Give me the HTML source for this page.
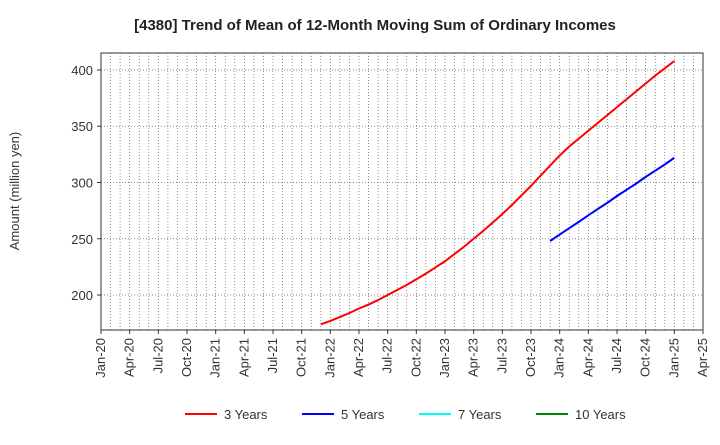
<!DOCTYPE html>
<html><head><meta charset="utf-8"><style>
body{margin:0;background:#fff;font-family:"Liberation Sans",sans-serif}
</style></head><body>
<svg id="c" width="720" height="440" xmlns="http://www.w3.org/2000/svg"></svg>
<script>
const xLabels=["Jan-20","Apr-20","Jul-20","Oct-20","Jan-21","Apr-21","Jul-21","Oct-21","Jan-22","Apr-22","Jul-22","Oct-22","Jan-23","Apr-23","Jul-23","Oct-23","Jan-24","Apr-24","Jul-24","Oct-24","Jan-25","Apr-25"];
const yTicks=[200,250,300,350,400];
const red3Start=23; // month index (Dec-21)
const red3=[174,177,180.5,184,188,191.5,195.5,200,204.5,209,214,219,224.5,230,236.5,243,250,257,264.5,272,280,288.5,297,306,315,324,332,339,346,353,360,367,374,381,388,395,401.5,408];
const blue5Start=47; // Dec-23
const blue5=[248,253.7,259.4,265,270.8,276.5,282,288,293.5,299,305,310.5,316,322];
const L=101,R=703,T=53,B=330,yMin=168.9,yMax=415.1,mMax=63;
const X=m=>L+(R-L)*m/mMax, Y=v=>B-(B-T)*(v-yMin)/(yMax-yMin);
const s=document.getElementById('c');const NS="http://www.w3.org/2000/svg";
function el(t,a,p){const e=document.createElementNS(NS,t);for(const k in a)e.setAttribute(k,a[k]);(p||s).appendChild(e);return e;}
const title=el('text',{x:375,y:30,'text-anchor':'middle','font-size':15,'font-weight':'bold',fill:'#222'});

title.textContent="[4380]  Trend of Mean of 12-Month Moving Sum of Ordinary Incomes";
for(let m=0;m<=mMax;m++){const g=el('line',{x1:X(m),x2:X(m),y1:T,y2:B,stroke:'#666','stroke-width':0.7,'stroke-dasharray':'1,2'});}
yTicks.forEach(v=>{const g=el('line',{x1:L,x2:R,y1:Y(v),y2:Y(v),stroke:'#666','stroke-width':0.7,'stroke-dasharray':'1,2'});
el('line',{x1:L-4,x2:L,y1:Y(v),y2:Y(v),stroke:'#333'});
const t=el('text',{x:L-8,y:Y(v)+5,'text-anchor':'end','font-size':13,fill:'#333'});t.textContent=v;});
const fr=el('rect',{x:L,y:T,width:R-L,height:B-T,fill:'none',stroke:'#333','stroke-width':1});
xLabels.forEach((lb,i)=>{const x=X(i*3);el('line',{x1:x,x2:x,y1:B,y2:B+4,stroke:'#333'});
const t=el('text',{transform:`translate(${x+4},${B+8}) rotate(-90)`,'text-anchor':'end','font-size':13,fill:'#333'});t.textContent=lb;});
const yt=el('text',{transform:'translate(19,191) rotate(-90)','text-anchor':'middle','font-size':13,fill:'#333'});yt.textContent="Amount (million yen)";
function line(arr,start,col,name){const p=el('polyline',{points:arr.map((v,i)=>X(start+i)+','+Y(v)).join(' '),fill:'none',stroke:col,'stroke-width':2});}
line(red3,red3Start,'#f00','series-3-years');line(blue5,blue5Start,'#00f','series-5-years');
const leg=[["3 Years","#f00",185],["5 Years","#00f",302],["7 Years","#0ff",419],["10 Years","#080",536]];
leg.forEach(([n,c,x])=>{const g=el('g',{});
el('line',{x1:x,x2:x+32,y1:414,y2:414,stroke:c,'stroke-width':2},g);
const t=el('text',{x:x+39,y:419,'font-size':13,fill:'#333'},g);t.textContent=n;});
</script></body></html>
